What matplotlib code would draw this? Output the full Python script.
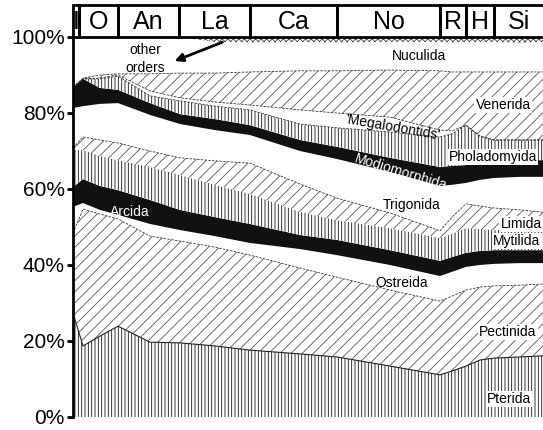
import numpy as np
import matplotlib
matplotlib.use("Agg")
import matplotlib.pyplot as plt
from matplotlib.patches import Rectangle

plt.rcParams['font.family'] = ['Liberation Sans', 'DejaVu Sans']
plt.rcParams['hatch.linewidth'] = 0.6

# sample positions along the time axis (arbitrary stage-scaled units)
x = [0, 10, 27, 45, 77, 107, 142, 177, 227, 264, 317, 367, 379, 393, 407, 421, 447, 470]

stages = ['I', 'O', 'An', 'La', 'Ca', 'No', 'R', 'H', 'Si']
stage_edges = [0, 6, 45, 106, 177, 264, 367, 393, 421, 480]

# percentage of genera per order, bottom to top
pterida = [27.4, 18.7, 21.3, 23.9, 19.7, 19.5, 18.7, 17.6, 16.6, 15.8, 13.4, 11.1, 12.1, 13.4, 15.0, 15.5, 15.8, 16.1]
pectinida = [21.0, 36.0, 32.1, 28.2, 27.9, 26.8, 26.0, 25.0, 22.6, 21.0, 20.0, 19.4, 19.7, 20.0, 19.2, 19.0, 18.9, 18.9]
ostreida = [6.9, 1.6, 1.1, 1.1, 3.2, 2.9, 2.9, 3.2, 5.0, 5.8, 6.6, 6.6, 6.4, 6.1, 5.8, 5.8, 5.8, 5.5]
arcida = [5.2, 6.3, 6.3, 6.5, 6.3, 5.3, 5.0, 5.0, 3.7, 4.0, 3.9, 4.0, 3.9, 3.7, 3.7, 3.6, 3.4, 3.4]
mytilida = [9.8, 7.7, 7.9, 7.9, 8.7, 9.2, 8.5, 7.9, 6.1, 5.2, 5.8, 6.0, 6.1, 6.5, 5.8, 5.3, 5.3, 5.3]
limida = [0.5, 3.4, 4.2, 4.5, 4.2, 4.5, 6.3, 8.1, 7.3, 5.8, 4.0, 1.9, 4.4, 6.4, 6.0, 5.8, 5.3, 4.7]
trigonida = [10.5, 8.1, 9.5, 10.5, 9.5, 8.9, 8.1, 7.4, 8.7, 10.3, 10.8, 11.8, 8.5, 5.5, 6.9, 7.9, 8.7, 9.3]
modiomorphida = [5.5, 7.2, 4.2, 3.5, 3.1, 2.6, 2.9, 2.6, 2.9, 3.2, 3.7, 5.0, 5.0, 4.7, 4.7, 4.7, 4.4, 4.4]
pholadomyida = [0, 0, 2.4, 3.6, 1.9, 3.5, 3.4, 4.0, 4.2, 5.0, 6.8, 7.9, 8.4, 10.5, 6.8, 5.3, 5.3, 5.3]
megalodontids = [0, 0, 0.2, 0.3, 1.3, 0.8, 1.1, 1.3, 3.7, 3.9, 3.9, 1.8, 0.8, 0, 0, 0, 0, 0]
venerida = [0, 0.2, 0.8, 0.3, 4.5, 6.5, 7.6, 8.7, 10.3, 11.1, 12.4, 15.6, 15.5, 14.0, 16.9, 17.9, 17.9, 17.9]
nuculida = [13.2, 10.8, 10.0, 9.7, 9.7, 9.5, 8.2, 7.8, 7.6, 7.5, 7.4, 7.6, 7.8, 7.9, 7.9, 7.9, 7.7, 7.9]
other = [0, 0, 0, 0, 0, 0, 1.3, 1.4, 1.3, 1.4, 1.3, 1.3, 1.4, 1.3, 1.3, 1.3, 1.4, 1.3]

layers = [
    ('Pterida', pterida, 'white', '|||||', '#111111'),
    ('Pectinida', pectinida, 'white', '///', '#555555'),
    ('Ostreida', ostreida, 'white', None, 'none'),
    ('Arcida', arcida, '#111111', None, 'none'),
    ('Mytilida', mytilida, 'white', '|||||', '#111111'),
    ('Limida', limida, 'white', '///', '#555555'),
    ('Trigonida', trigonida, 'white', None, 'none'),
    ('Modiomorphida', modiomorphida, '#111111', None, 'none'),
    ('Pholadomyida', pholadomyida, 'white', '|||||', '#111111'),
    ('Megalodontids', megalodontids, 'white', None, 'none'),
    ('Venerida', venerida, 'white', '///', '#555555'),
    ('Nuculida', nuculida, 'white', None, 'none'),
    ('other', other, 'white', 'xxxxxx', '#444444'),
]

fig = plt.figure(figsize=(5.43, 4.30), dpi=100)
ax = fig.add_axes([73 / 543, 13 / 430, 470 / 543, 380 / 430])

lower = np.zeros(len(x))
tops = {}
for name, vals, fc, h, hc in layers:
    upper = lower + np.array(vals)
    ax.fill_between(x, lower, upper, facecolor=fc, hatch=h,
                    edgecolor=hc, linewidth=0)
    tops[name] = upper
    lower = upper

# thin dashed outlines along the hatched bands
for name in ['Pectinida', 'Limida', 'Venerida', 'Megalodontids', 'Pholadomyida']:
    ax.plot(x, tops[name], color='#333333', lw=0.6, ls=(0, (3, 1.5)))
ax.plot(x, tops['Pterida'], color='#222222', lw=0.8)

ax.set_xlim(0, 470)
ax.set_ylim(0, 100)
ax.set_yticks([0, 20, 40, 60, 80, 100])
ax.set_yticklabels(['0%', '20%', '40%', '60%', '80%', '100%'], fontsize=15)
ax.tick_params(axis='y', length=4, width=2, pad=2)
ax.set_xticks([])
for s in ['top', 'right', 'bottom']:
    ax.spines[s].set_visible(False)
ax.spines['left'].set_linewidth(2)

# stage boxes on top
tr = ax.get_xaxis_transform()
for i, st in enumerate(stages):
    x0, x1 = stage_edges[i], stage_edges[i + 1]
    ax.add_patch(Rectangle((x0, 1.0), x1 - x0, 0.084, transform=tr, fill=False,
                           lw=2, edgecolor='black', clip_on=False))
    ax.text((x0 + min(x1, 470)) / 2, 1.040, st, transform=tr, ha='center',
            va='center', fontsize=18)

# labels
lab = dict(fontsize=10, ha='center', va='center')
box = dict(fc='white', ec='none', pad=0.8)
ax.text(346, 95.0, 'Nuculida', **lab)
ax.text(430, 82.1, 'Venerida', bbox=box, **lab)
ax.text(320, 76.3, "'Megalodontids'", rotation=-10, **lab)
ax.text(420, 68.4, 'Pholadomyida', bbox=box, **lab)
ax.text(328, 64.5, 'Modiomorphida', rotation=-17, color='white', **lab)
ax.text(339, 55.8, 'Trigonida', **lab)
ax.text(448, 50.8, 'Limida', bbox=box, **lab)
ax.text(444, 46.3, 'Mytilida', bbox=box, **lab)
ax.text(57, 53.9, 'Arcida', color='white', **lab)
ax.text(329, 35.3, 'Ostreida', **lab)
ax.text(435, 22.4, 'Pectinida', bbox=box, **lab)
ax.text(436, 4.7, 'Pterida', bbox=box, **lab)

ax.text(72, 94.2, 'other\norders', fontsize=10, ha='center', va='center',
        linespacing=1.3)
ax.annotate('', xy=(99, 93.4), xytext=(152, 98.9),
            arrowprops=dict(arrowstyle='-|>', lw=2, color='black', mutation_scale=12))

fig.savefig('out.png', dpi=100)
